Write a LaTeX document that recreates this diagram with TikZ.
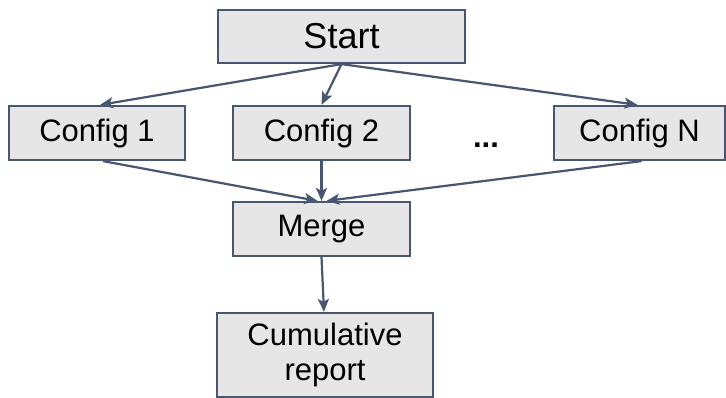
\documentclass[tikz,border=0pt]{standalone}
\usepackage{fontspec}
\setmainfont{Liberation Sans}
\usetikzlibrary{arrows.meta,calc}
\definecolor{edgeblue}{HTML}{48566F}
\definecolor{boxfill}{HTML}{E6E6E6}
\tikzset{
  box/.style={draw=edgeblue, fill=boxfill, line width=2.2pt, inner sep=0pt,
    align=center, font=\fontsize{31}{35}\selectfont},
  flow/.style={draw=edgeblue, line width=2.2pt,
    -{Stealth[length=13pt,width=11pt,inset=3pt]}}
}
\begin{document}
\begin{tikzpicture}[x=1pt,y=-1pt]
  \useasboundingbox (0,0) rectangle (726,398);
  \node[box, minimum width=247pt, minimum height=53pt, font=\fontsize{36}{40}\selectfont]
    (start) at (341.5,36.5) {Start};
  \node[box, minimum width=176pt, minimum height=54pt] (c1) at (97,133) {Config 1};
  \node[box, minimum width=177pt, minimum height=54pt] (c2) at (321.5,133) {Config 2};
  \node[box, minimum width=171pt, minimum height=54pt] (cn) at (639.5,133) {Config N};
  \node[anchor=base, inner sep=0pt, font=\fontsize{31}{35}\selectfont\bfseries]
    (dots) at (486,148) {...};
  \node[box, minimum width=177pt, minimum height=54pt] (merge) at (321.5,229) {Merge};
  \node[box, minimum width=216pt, minimum height=84pt] (report) at (325,355)
    {Cumulative\\report};

  \draw[flow] (start.south) -- ($(c1.north)+(3,0)$);
  \draw[flow] (start.south) -- (c2.north);
  \draw[flow] (start.south) -- ($(cn.north)+(-2,0)$);
  \draw[flow] ($(c1.south)+(6,0)$) -- ($(merge.north)+(-4,0)$);
  \draw[flow] (c2.south) -- (merge.north);
  \draw[flow] ($(cn.south)+(2,0)$) -- ($(merge.north)+(5,0)$);
  \draw[flow] (merge.south) -- ($(report.north)+(-1,0)$);
\end{tikzpicture}
\end{document}
